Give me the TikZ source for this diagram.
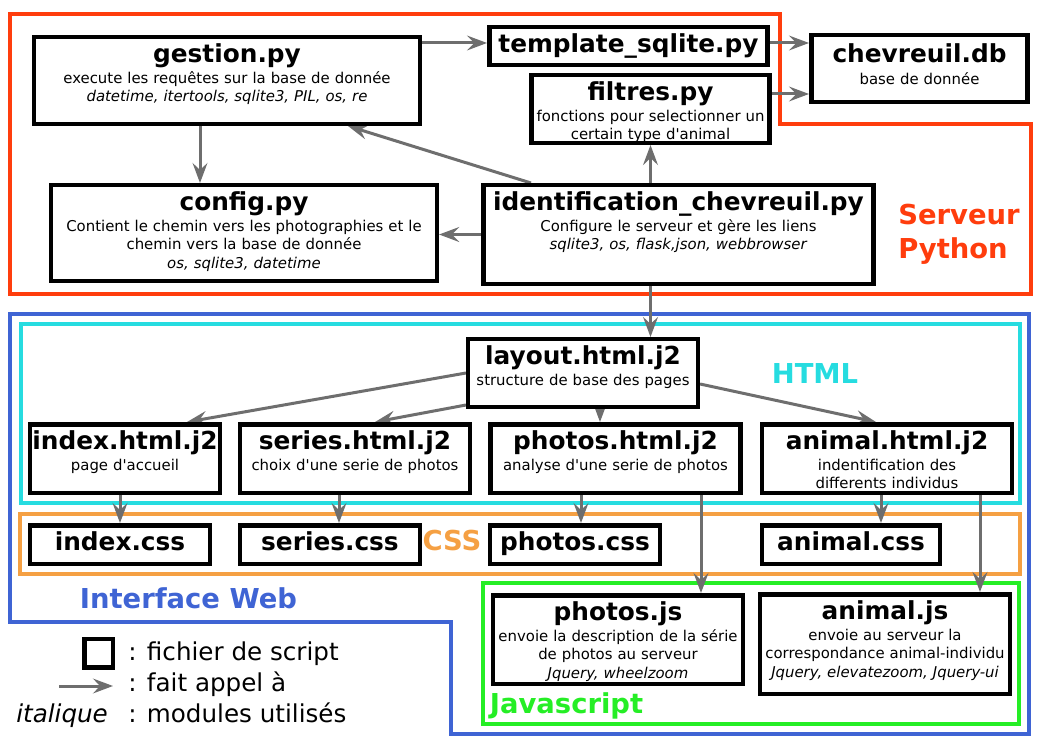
\documentclass[tikz,border=0pt]{standalone}
\usepackage{fontspec}
\setmainfont{DejaVu Sans}[ItalicFont={DejaVu Sans Oblique},BoldFont={DejaVu Sans Bold},BoldItalicFont={DejaVu Sans Bold Oblique}]
\usetikzlibrary{arrows.meta}
\pgfdeclarelayer{edgelayer}
\pgfdeclarelayer{nodelayer}
\pgfsetlayers{edgelayer,nodelayer,main}
\definecolor{serveurred}{HTML}{FF3D0D}
\definecolor{webblue}{HTML}{3F64D4}
\definecolor{htmlcyan}{HTML}{26DCE0}
\definecolor{cssorange}{HTML}{F5A043}
\definecolor{jsgreen}{HTML}{25EE25}
\definecolor{callgray}{HTML}{6E6E6E}
\newcommand{\bodyfont}{\fontsize{10.6}{13.16}\selectfont}
\newcommand{\labelfont}{\bfseries\fontsize{19.5}{24.2}\selectfont}
\newcommand{\legendfont}{\fontsize{17.5}{21}\selectfont}
\newcommand{\scripttitle}[1]{{\bfseries\fontsize{17.64}{21}\selectfont #1}}
\tikzstyle{none}=[inner sep=0pt]
\tikzstyle{script}=[draw=black,line width=1.125mm,fill=white,inner sep=0pt,align=center,text height=0.619cm,anchor=north,font=\bodyfont]
\tikzstyle{call}=[-{Stealth[length=0.5cm,width=0.37cm,inset=0.18cm]},draw=callgray,line width=0.75mm]
\tikzstyle{group}=[line width=1mm]
\tikzstyle{group label}=[inner sep=0pt,font=\labelfont]
\tikzstyle{legend}=[inner sep=0pt,anchor=base west,font=\legendfont]

\begin{document}
\begin{tikzpicture}
	\useasboundingbox (0,0) rectangle (26.3,-18.6);
	\begin{pgfonlayer}{nodelayer}
		\node [style=script, text width=9.64cm, text depth=1.544cm] (0) at (5.675, -0.875) {\scripttitle{gestion.py}\\[2pt]execute les requêtes sur la base de donnée\\\textit{datetime, itertools, sqlite3, PIL, os, re}};
		\node [style=script, text width=6.96cm, text depth=0.319cm] (1) at (15.7125, -0.625) {\scripttitle{template\_sqlite.py}};
		\node [style=script, text width=5.41cm, text height=0.69cm, text depth=0.973cm] (2) at (22.9875, -0.825) {\scripttitle{chevreuil.db}\\[2pt]base de donnée};
		\node [style=script, text width=5.96cm, text depth=1.069cm] (3) at (16.2625, -1.825) {\scripttitle{filtres.py}\\[2pt]fonctions pour selectionner un\\certain type d\textquotesingle animal};
		\node [style=script, text width=9.76cm, text depth=1.844cm] (4) at (16.9625, -4.575) {\scripttitle{identification\_chevreuil.py}\\[2pt]Configure le serveur et gère les liens\\\textit{sqlite3, os, flask,json, webbrowser}};
		\node [style=script, text width=9.64cm, text depth=1.769cm] (5) at (6.1, -4.575) {\scripttitle{config.py}\\[2pt]Contient le chemin vers les photographies et le\\chemin vers la base de donnée\\\textit{os, sqlite3, datetime}};
		\node [style=script, text width=5.74cm, text depth=1.069cm] (6) at (14.575, -8.425) {\scripttitle{layout.html.j2}\\[2pt]structure de base des pages};
		\node [style=script, text width=4.74cm, text depth=1.094cm] (7) at (3.125, -10.55) {\scripttitle{index.html.j2}\\[2pt]page d\textquotesingle accueil};
		\node [style=script, text width=5.74cm, text depth=1.094cm] (8) at (8.875, -10.55) {\scripttitle{series.html.j2}\\[2pt]choix d\textquotesingle une serie de photos};
		\node [style=script, text width=6.26cm, text depth=1.094cm] (9) at (15.3875, -10.55) {\scripttitle{photos.html.j2}\\[2pt]analyse d\textquotesingle une serie de photos};
		\node [style=script, text width=6.24cm, text depth=1.094cm] (10) at (22.175, -10.55) {\scripttitle{animal.html.j2}\\[2pt]indentification des\\differents individus};
		\node [style=script, text width=4.49cm, text depth=0.344cm] (11) at (3, -13.075) {\scripttitle{index.css}};
		\node [style=script, text width=4.49cm, text depth=0.344cm] (12) at (8.25, -13.075) {\scripttitle{series.css}};
		\node [style=script, text width=4.24cm, text depth=0.344cm] (13) at (14.375, -13.075) {\scripttitle{photos.css}};
		\node [style=script, text width=4.44cm, text depth=0.344cm] (14) at (21.275, -13.075) {\scripttitle{animal.css}};
		\node [style=script, text width=6.24cm, text depth=1.594cm] (15) at (15.45, -14.825) {\scripttitle{photos.js}\\[2pt]envoie la description de la série\\de photos au serveur\\\textit{Jquery, wheelzoom}};
		\node [style=script, text width=6.24cm, text depth=1.87cm] (16) at (22.125, -14.8) {\scripttitle{animal.js}\\[2pt]envoie au serveur la\\correspondance animal-individu\\\textit{Jquery, elevatezoom, Jquery-ui}};
		\node [style=script, text height=0pt, anchor=center, minimum size=0.7125cm] (17) at (2.4625, -16.325) {};
		\node [style=legend] (18) at (3.2, -16.52) {: fichier de script};
		\node [style=legend] (19) at (3.2, -17.29) {: fait appel à};
		\node [style=legend] (20) at (3.2, -18.07) {: modules utilisés};
		\node [style=legend] (21) at (0.4, -18.07) {\textit{italique}};
		\node [style=group label, text=serveurred, align=left, text width=4cm, anchor=base west] (22) at (22.45, -5.62) {Serveur\\Python};
		\node [style=group label, text=htmlcyan, anchor=base] (23) at (20.375, -9.575) {HTML};
		\node [style=group label, text=cssorange, anchor=base] (24) at (11.3, -13.75) {CSS};
		\node [style=group label, text=webblue, anchor=base] (25) at (4.7125, -15.21) {Interface Web};
		\node [style=group label, text=jsgreen, anchor=base] (26) at (14.1625, -17.83) {Javascript};
		\node [style=none] (27) at (1.475, -17.15) {};
		\node [style=none] (28) at (2.825, -17.15) {};
	\end{pgfonlayer}
	\begin{pgfonlayer}{edgelayer}
		\draw [style=group, draw=serveurred] (0.26, -0.35) -- (19.5, -0.35) -- (19.5, -3.1) -- (25.775, -3.1) -- (25.775, -7.35) -- (0.26, -7.35) -- cycle;
		\draw [style=group, draw=webblue] (0.26, -7.85) -- (25.725, -7.85) -- (25.725, -18.3375) -- (11.27, -18.3375) -- (11.27, -15.55) -- (0.26, -15.55) -- cycle;
		\draw [style=group, draw=htmlcyan] (0.5125, -8.1) rectangle (25.5, -12.5625);
		\draw [style=group, draw=cssorange] (0.4875, -12.85) rectangle (25.5, -14.35);
		\draw [style=group, draw=jsgreen] (12.075, -14.58) rectangle (25.4625, -18.0875);
		\draw [style=call] (0.east |- 0,-1.075) to (1.west |- 0,-1.075);
		\draw [style=call] (1.east |- 0,-1.075) to (2.west |- 0,-1.075);
		\draw [style=call] (3.east |- 0,-2.35) to (2.west |- 0,-2.35);
		\draw [style=call] (4.north -| 13.275,0) to (0.south -| 8.7,0);
		\draw [style=call] (4.north -| 3.south) to (3.south);
		\draw [style=call] (4.west) to (4.west -| 5.east);
		\draw [style=call] (0.south -| 5,0) to (5.north -| 5,0);
		\draw [style=call] (4.south -| 3.south) to (6.north -| 3.south);
		\draw [style=call] (6.west) to (7.north -| 4.675,0);
		\draw [style=call] (6.west |- 0,-10.125) to (8.north -| 9.375,0);
		\draw [style=call] (6.south -| 15,0) to (9.north -| 15,0);
		\draw [style=call] (6.east |- 0,-9.6) to (10.north -| 21.9,0);
		\draw [style=call] (7.south -| 11.north) to (11.north);
		\draw [style=call] (8.south -| 8.475,0) to (12.north -| 8.475,0);
		\draw [style=call] (9.south -| 14.525,0) to (13.north -| 14.525,0);
		\draw [style=call] (10.south -| 22.025,0) to (14.north -| 22.025,0);
		\draw [style=call] (9.south -| 17.525,0) to (15.north -| 17.525,0);
		\draw [style=call] (10.south -| 24.5,0) to (16.north -| 24.5,0);
		\draw [style=call] (27.center) to (28.center);
	\end{pgfonlayer}
\end{tikzpicture}
\end{document}
